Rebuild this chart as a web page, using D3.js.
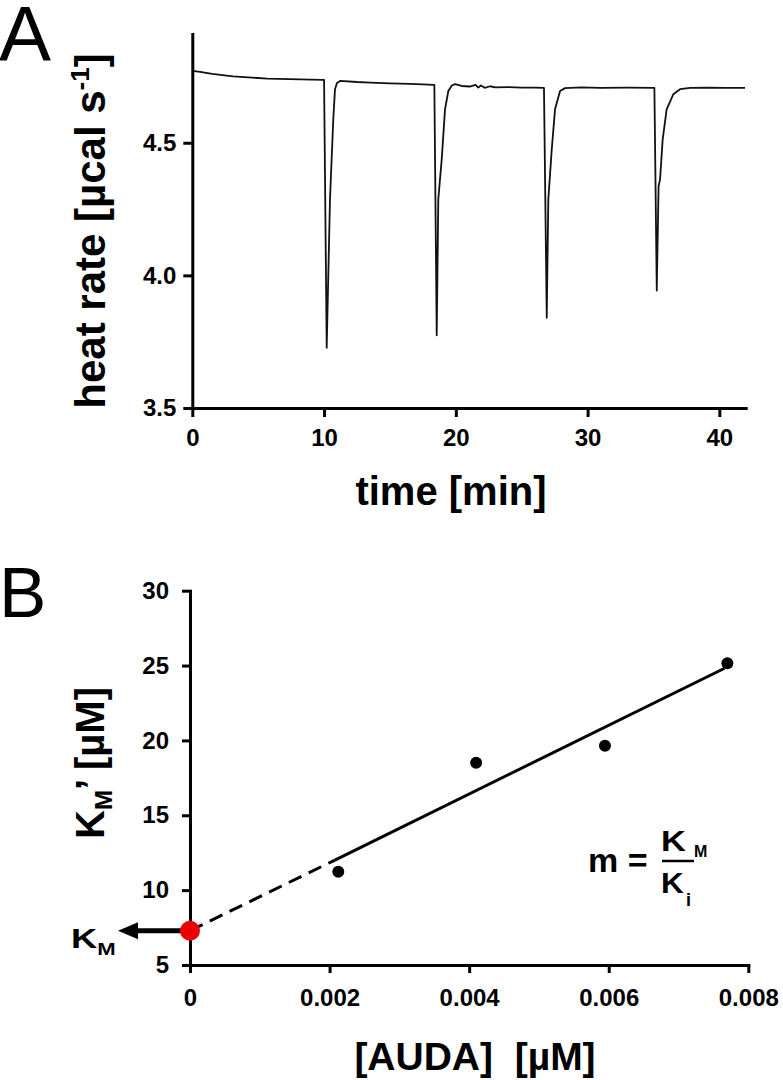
<!DOCTYPE html>
<html>
<head>
<meta charset="utf-8">
<script src="https://cdn.jsdelivr.net/npm/d3@7"></script>
<style>
  html, body { margin: 0; padding: 0; background: #fff; }
  svg { display: block; }
  text { font-family: "Liberation Sans", Arial, sans-serif; fill: #000; }
</style>
</head>
<body>
<svg id="chart" width="783" height="1080"></svg>
<script>
// ---------- Panel A data: ITC thermogram ----------
const traceTime = [0, 0.6, 1.5, 3.1, 5.7, 8.2, 9.95, 10.0, 10.2, 10.45, 10.7, 10.83, 10.98, 11.21, 12.5, 13.5, 15.0, 16.5, 17.5, 18.3, 18.37,
  18.55, 18.67, 18.93, 19.18, 19.43, 19.7, 19.94, 20.45, 21.06, 21.5, 21.7, 21.9, 22.2, 22.6, 23.0, 24.0, 25.0, 26.0, 26.69,
  26.9, 27.02, 27.28, 27.53, 27.91, 28.29, 29.5, 31.0, 33.0, 35.07,
  35.25, 35.37, 35.39, 35.5, 35.7, 36.0, 36.51, 37.02, 37.78, 39.0, 40.5, 41.95];
const traceHeat = [4.771, 4.767, 4.760, 4.750, 4.742, 4.739, 4.737, 4.737, 3.727, 4.287, 4.589, 4.702, 4.725, 4.733, 4.729, 4.727, 4.724, 4.722, 4.720, 4.718, 4.718,
  3.774, 4.287, 4.438, 4.626, 4.695, 4.716, 4.721, 4.714, 4.712, 4.718, 4.708, 4.716, 4.707, 4.713, 4.709, 4.710, 4.708, 4.708, 4.707,
  3.840, 4.287, 4.475, 4.626, 4.695, 4.706, 4.709, 4.707, 4.708, 4.707,
  3.943, 4.287, 4.337, 4.362, 4.513, 4.626, 4.683, 4.702, 4.707, 4.708, 4.707, 4.707];
const timeTicks = [0, 10, 20, 30, 40];
const heatTicks = [3.5, 4.0, 4.5];

// ---------- Panel B data: Km' vs [AUDA] ----------
const audaConc = [0.002125, 0.0041, 0.005946, 0.0077];
const kmApparent = [11.23, 18.51, 19.65, 25.15];
const kmInterceptX = [0];
const kmInterceptY = [7.29];
const fitSolidX = [0.002077, 0.00766];
const fitSolidY = [12.01, 24.82];
const fitDashX = [0, 0.002077];
const fitDashY = [7.29, 12.01];
const audaTicks = [0, 0.002, 0.004, 0.006, 0.008];
const kmTicks = [5, 10, 15, 20, 25, 30];

const svg = d3.select("#chart");
svg.append("rect").attr("width", 783).attr("height", 1080).attr("fill", "#fff");

function styleAxis(g, fontSize) {
  g.select(".domain").attr("stroke", "#000").attr("stroke-width", 3).attr("stroke-linecap", "square");
  g.selectAll(".tick line").attr("stroke", "#000").attr("stroke-width", 3);
  g.selectAll(".tick text").attr("fill", "#000").style("font-size", fontSize + "px")
    .style("font-weight", "bold").style("font-family", '"Liberation Sans", Arial, sans-serif');
}

// ================= PANEL A =================
const xA = d3.scaleLinear().domain([0, 42]).range([192.3, 745.7]);
const yA = d3.scaleLinear().domain([3.5, 4.91]).range([408, 34]);

const gxA = svg.append("g").attr("transform", `translate(0,${yA(3.5)})`)
  .call(d3.axisBottom(xA).tickValues(timeTicks).tickSize(9).tickSizeOuter(0).tickPadding(12).tickFormat(d3.format("d")));
styleAxis(gxA, 24);
const gyA = svg.append("g").attr("transform", `translate(${xA(0)},0)`)
  .call(d3.axisLeft(yA).tickValues(heatTicks).tickSize(9).tickSizeOuter(0).tickPadding(7).tickFormat(d3.format(".1f")));
styleAxis(gyA, 24);

const trace = traceTime.map((t, i) => [t, traceHeat[i]]);
svg.append("path").datum(trace)
  .attr("fill", "none").attr("stroke", "#111").attr("stroke-width", 1.8).attr("stroke-linejoin", "round")
  .attr("d", d3.line().x(d => xA(d[0])).y(d => yA(d[1])));

svg.append("text").attr("x", -1).attr("y", 61).style("font-size", "78px").text("A");

svg.append("text").attr("x", 451).attr("y", 505).attr("text-anchor", "middle")
  .style("font-size", "40px").style("font-weight", "bold").text("time [min]");

const yTitleA = svg.append("text").attr("transform", "translate(105,231) rotate(-90)")
  .attr("text-anchor", "middle").style("font-size", "42px").style("font-weight", "bold");
yTitleA.append("tspan").text("heat rate [µcal s");
yTitleA.append("tspan").attr("dy", -16).style("font-size", "26px").text("-1");
yTitleA.append("tspan").attr("dy", 16).text("]");

// ================= PANEL B =================
const xB = d3.scaleLinear().domain([0, 0.008]).range([190, 748.3]);
const yB = d3.scaleLinear().domain([5, 30]).range([965, 590.7]);

const gxB = svg.append("g").attr("transform", `translate(0,${yB(5)})`)
  .call(d3.axisBottom(xB).tickValues(audaTicks).tickSize(8).tickSizeOuter(0).tickPadding(16)
    .tickFormat(d => d === 0 ? "0" : d3.format(".3f")(d)));
styleAxis(gxB, 24);
const gyB = svg.append("g").attr("transform", `translate(${xB(0)},0)`)
  .call(d3.axisLeft(yB).tickValues(kmTicks).tickSize(8).tickSizeOuter(0).tickPadding(13).tickFormat(d3.format("d")));
styleAxis(gyB, 24);

const lineB = d3.line().x(d => xB(d[0])).y(d => yB(d[1]));
svg.append("path").datum(fitDashX.map((x, i) => [x, fitDashY[i]]))
  .attr("fill", "none").attr("stroke", "#000").attr("stroke-width", 3).attr("stroke-dasharray", "14,8")
  .attr("d", lineB);
svg.append("path").datum(fitSolidX.map((x, i) => [x, fitSolidY[i]]))
  .attr("fill", "none").attr("stroke", "#000").attr("stroke-width", 3)
  .attr("d", lineB);

svg.append("g").selectAll("circle").data(audaConc.map((x, i) => [x, kmApparent[i]])).join("circle")
  .attr("cx", d => xB(d[0])).attr("cy", d => yB(d[1])).attr("r", 6).attr("fill", "#000");

// arrow to Km
const ay = yB(kmInterceptY[0]);
const ax = xB(kmInterceptX[0]);
svg.append("line").attr("x1", ax).attr("x2", ax - 58).attr("y1", ay).attr("y2", ay)
  .attr("stroke", "#000").attr("stroke-width", 5);
svg.append("path").attr("d", `M${ax - 72},${ay} L${ax - 52},${ay - 8.5} L${ax - 52},${ay + 8.5} Z`).attr("fill", "#000");

svg.append("g").selectAll("circle").data(kmInterceptX.map((x, i) => [x, kmInterceptY[i]])).join("circle")
  .attr("cx", d => xB(d[0])).attr("cy", d => yB(d[1])).attr("r", 10).attr("fill", "#ee0000");

const kmLbl = svg.append("text").attr("transform", "translate(71,948) scale(1.3,1)")
  .style("font-weight", "bold").style("font-size", "28px");
kmLbl.append("tspan").text("K");
kmLbl.append("tspan").attr("dy", 7).style("font-size", "17px").text("M");

// formula m = Km/Ki
svg.append("text").attr("x", 588).attr("y", 872).style("font-size", "34px").style("font-weight", "bold").text("m =");
svg.append("line").attr("x1", 662).attr("x2", 694).attr("y1", 861).attr("y2", 861).attr("stroke", "#000").attr("stroke-width", 2.5);
const num = svg.append("text").attr("transform", "translate(661,851) scale(1.15,1)")
  .style("font-weight", "bold").style("font-size", "30px").text("K");
svg.append("text").attr("x", 694).attr("y", 857).style("font-weight", "bold").style("font-size", "16px").text("M");
const den = svg.append("text").attr("transform", "translate(661,893) scale(1.05,1)")
  .style("font-weight", "bold").style("font-size", "30px").text("K");
svg.append("text").attr("x", 686).attr("y", 906).style("font-weight", "bold").style("font-size", "18px").text("i");

svg.append("text").attr("x", -1).attr("y", 617).style("font-size", "71px").text("B");

svg.append("text").attr("x", 475).attr("y", 1070).attr("text-anchor", "middle").style("white-space", "pre")
  .style("font-size", "39px").style("font-weight", "bold").text("[AUDA]  [µM]");

const yTitleB = svg.append("text").attr("transform", "translate(104,763) rotate(-90)")
  .attr("text-anchor", "middle").style("font-size", "40px").style("font-weight", "bold");
yTitleB.append("tspan").text("K");
yTitleB.append("tspan").attr("dy", 8).style("font-size", "24px").text("M");
yTitleB.append("tspan").attr("dy", -8).text("’ [µM]");
</script>
</body>
</html>
